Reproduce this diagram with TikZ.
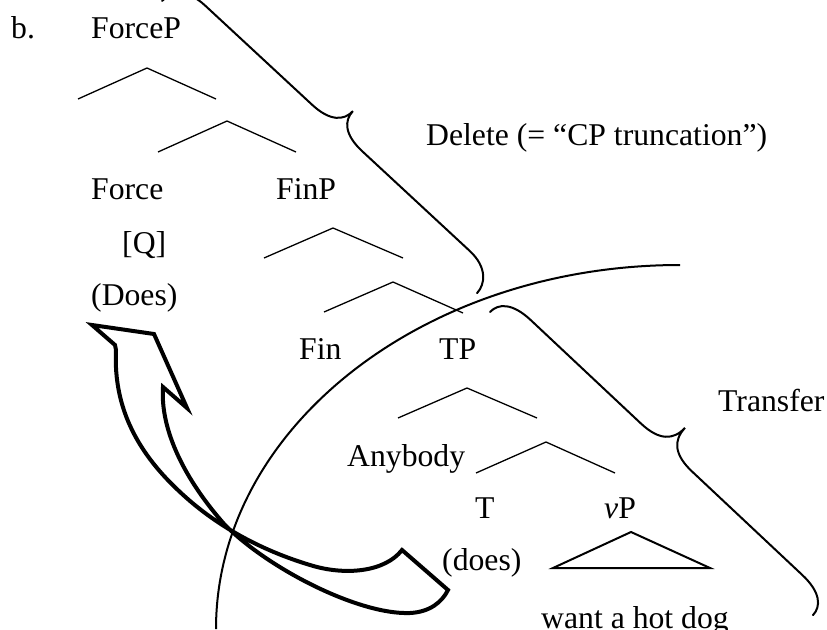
\documentclass[tikz,border=0pt]{standalone}
\usepackage{fontspec}
\setmainfont{Liberation Serif}

% Curly brace drawn along the local u axis (length 440), bulging to +v.
% #1 = offset of the two straight arms from the baseline.
\newcommand{\wordbrace}[1]{%
  \draw[bracestyle] (0,0) .. controls (0,12) and (10,#1) .. (35,#1) -- (185,#1)
    .. controls (210,#1) and (220,{#1+10}) .. (220,49)
    .. controls (220,{#1+10}) and (230,#1) .. (255,#1) -- (405,#1)
    .. controls (430,#1) and (440,12) .. (440,0);}

\begin{document}
\begin{tikzpicture}[x=1pt,y=-1pt,
  lbl/.style={anchor=base west,inner sep=0pt,font=\fontsize{31.7}{38}\selectfont},
  branch/.style={line width=1.3pt,line join=miter},
  bracestyle/.style={line width=2pt,line cap=round},
  phase/.style={line width=2pt},
  movearrow/.style={line width=4pt,line join=miter}]
\useasboundingbox (0,0) rectangle (827,629);

% ---- labels ----
\node[lbl] (ex)      at (11,38)   {b.};
\node[lbl] (forceP)  at (91,38)   {ForceP};
\node[lbl] (force)   at (91,199)  {Force};
\node[lbl] (finP)    at (276,199) {FinP};
\node[lbl] (q)       at (122,253) {[Q]};
\node[lbl] (Does)    at (91,305)  {(Does)};
\node[lbl] (fin)     at (299,359) {Fin};
\node[lbl] (tp)      at (439,359) {TP};
\node[lbl] (any)     at (347,466) {Anybody};
\node[lbl] (t)       at (475,518) {T};
\node[lbl] (vp)      at (604,518) {\textit{v}P};
\node[lbl] (does)    at (442,570) {(does)};
\node[lbl] (want)    at (541,628) {want a hot dog};
\node[lbl] (delete)  at (426,145) {Delete (= “CP truncation”)};
\node[lbl] (transfer) at (718,411) {Transfer};

% ---- tree branches ----
\draw[branch] (78,99)   -- (147,68)  -- (216,99);
\draw[branch] (158,152) -- (227,121) -- (296,152);
\draw[branch] (264,258) -- (333,228) -- (403,258);
\draw[branch] (324,312) -- (393,282) -- (463,313);
\draw[branch] (398,418) -- (467,388) -- (537,418);
\draw[branch] (476,473) -- (546,442) -- (615,473);
\draw[phase] (631,532) -- (553,568) -- (710,568) -- cycle;

% ---- phase boundary ----
\draw[phase] (216,629) .. controls (216,428) and (424,265) .. (680,265);

% ---- braces ----
\begin{scope}[shift={(162,1)},x={(0.716pt,-0.664pt)},y={(0.680pt,0.733pt)}]
  \wordbrace{26}
\end{scope}
\begin{scope}[shift={(490,312)},x={(0.734pt,-0.689pt)},y={(0.684pt,0.729pt)}]
  \wordbrace{22}
\end{scope}

% ---- head movement arrow ----
\draw[movearrow] (92,325) -- (154,334) -- (187,408) -- (163,387)
  .. controls (160,430) and (185,480) .. (225,525)
  .. controls (270,570) and (360,615) .. (410,613)
  .. controls (430,612) and (442,602) .. (448,590)
  -- (402,550)
  .. controls (385,572) and (345,576) .. (310,565)
  .. controls (260,550) and (215,525) .. (180,492)
  .. controls (140,455) and (113,410) .. (116,350)
  -- (115,345) -- cycle;
\end{tikzpicture}
\end{document}
